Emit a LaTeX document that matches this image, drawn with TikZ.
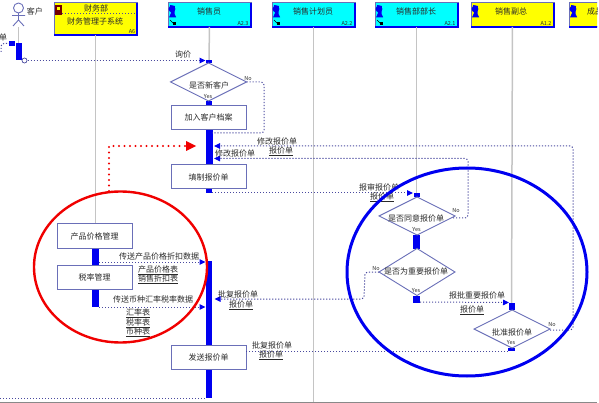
\documentclass[tikz,border=0pt]{standalone}
\usepackage{fontspec}
\setmainfont{Noto Sans CJK SC}
\usetikzlibrary{shapes.geometric,arrows.meta}
\definecolor{edgeblue}{HTML}{6A6FB8}
\definecolor{dotblue}{HTML}{4A4A9F}
\definecolor{barblue}{HTML}{0000F0}
\definecolor{lifegray}{HTML}{C4C4C4}
\definecolor{txt}{HTML}{2A2A2A}
\definecolor{hdrcyan}{HTML}{00FFFF}
\definecolor{hdryellow}{HTML}{FFFF00}
\definecolor{markred}{HTML}{F00000}
\tikzset{
  every node/.style={font=\fontsize{8}{9}\selectfont,text=txt,inner sep=0pt,outer sep=0pt},
  lab/.style={font=\fontsize{8}{9}\selectfont},
  small/.style={font=\fontsize{5.5}{6}\itshape\selectfont},
  bar/.style={fill=barblue,draw=none,minimum width=#1},
  bar/.default=6pt,
  taskbox/.style={draw=edgeblue,line width=1pt,fill=white,minimum width=75pt,minimum height=24pt},
  decide/.style={draw=edgeblue,line width=.9pt,fill=white,diamond,aspect=2,minimum width=76pt,minimum height=38pt},
  msg/.style={draw=dotblue,line width=1pt,dash pattern=on 1.2pt off 1.8pt,rounded corners=3pt},
  tip/.style={msg,-{Triangle[length=6pt,width=5.5pt,fill=barblue,color=barblue,sep=0pt]}},
  life/.style={draw=lifegray,line width=1.5pt},
  hdr/.style={draw=edgeblue,line width=1pt,minimum height=24pt},
}
\newcommand{\person}[2]{%
  \fill[barblue] (#1+4,#2+6) circle (3.4pt);
  \fill[barblue] (#1+2,#2+2) -- (#1+7,#2+3) -- (#1+6.5,#2+11) -- (#1+8,#2+14) -- (#1+8,#2+14.5) -- (#1+1,#2+14.5) -- (#1+3,#2+10) -- cycle;}
\newcommand{\corner}[2]{%
  \draw[black,line width=.4pt] (#1+2,#2+17) -- (#1+6,#2+21);
  \fill[black] (#1+5,#2+19.5) rectangle (#1+8,#2+22);}
\begin{document}
\begin{tikzpicture}[x=1pt,y=-1pt]
\useasboundingbox (0,0) rectangle (599,403);
\begin{scope}
\clip (0,0) rectangle (597,403);
% lifelines
\coordinate (lifeA) at (95.5,290);
\coordinate (lifeB) at (209,70);
\coordinate (lifeC) at (313.5,402);
\coordinate (lifeD) at (416.5,200);
\coordinate (lifeE) at (511.5,310);
\coordinate (lifeP) at (18.5,45);
% headers
\node[hdr,fill=hdryellow,minimum width=83pt,minimum height=32pt] (hA) at (95.5,19) {};
\node[hdr,fill=hdrcyan,minimum width=83pt] (hB) at (209.5,15) {};
\node[hdr,fill=hdrcyan,minimum width=83pt] (hC) at (313.5,15) {};
\node[hdr,fill=hdrcyan,minimum width=83pt] (hD) at (416.5,15) {};
\node[hdr,fill=hdryellow,minimum width=83pt] (hE) at (512.5,15) {};
\node[hdr,fill=hdryellow,minimum width=83pt] (hF) at (610.5,15) {};
\foreach \n in {hA,hB,hC,hD,hE,hF}{
  \draw[barblue,line width=1.3pt] (\n.south west) -- (\n.south east) -- (\n.north east);}
\draw[life] (hA) -- (lifeA);
\draw[life] (hB) -- (lifeB);
\draw[life] (hC) -- (lifeC);
\draw[life] (hD) -- (lifeD);
\draw[life] (hE) -- (lifeE);
\node at (209,11) {销售员};
\node at (313,11) {销售计划员};
\node at (416,11) {销售部部长};
\node at (511,11) {销售副总};
\node[anchor=west] at (587,11) {成品};
\node (tA1) at (96,8.5) {财务部};
\node (tA2) at (95,21) {财务管理子系统};
\draw[dotblue,line width=1pt,dash pattern=on 1.2pt off 1.8pt] (62,14) -- (136,14);
\foreach \t/\x/\y in {A6/132/32,A2.3/243/24,A2.2/347/24,A2.1/450/24,A1.2/546/24}{
  \node[small] at (\x,\y) {\t};}
\fill[red!45!black] (55,5) rectangle (62,15);
\fill[hdryellow] (57,7) rectangle (60,10);
\person{168}{3}\person{272}{3}\person{375}{3}\person{471}{3}\person{569}{3}
\corner{168}{3}\corner{272}{3}\corner{375}{3}
% actor
\draw[edgeblue,line width=.9pt] (18.5,8) circle (5pt);
\draw[edgeblue,line width=.9pt] (18.5,13) -- (18.5,20) (12,15.5) -- (25,15.5) (13,26) -- (18.5,20) -- (24,26);
\node (actor) at (35,11) {客户};
\node at (3,37) {单};
\draw[life] (18.5,27) -- (lifeP);
% bars
\node[bar,anchor=north,minimum height=17pt] (bP) at (18.5,43) {};
\fill[barblue] (9,41) rectangle (15,46);
\coordinate (p0) at (1,52);
\coordinate (p1) at (9,43.5);
\draw[msg] (p0) -- (1,43.5) -- (p1);
\node[bar,anchor=north,minimum height=3pt] (b1) at (209,60) {};
\node[bar,anchor=north,minimum height=5pt] (b2) at (209,101) {};
\node[bar,anchor=north,minimum height=36pt,minimum width=7pt] (b3) at (209,129) {};
\node[bar,anchor=north,minimum height=4pt] (b4) at (209,189) {};
\node[bar,anchor=north,minimum height=137pt] (b5) at (209,261) {};
\node[bar,anchor=north,minimum height=4pt] (b6) at (416.5,193) {};
\node[bar,anchor=north,minimum height=14pt,minimum width=7pt] (b7) at (416.5,235) {};
\node[bar,anchor=north,minimum height=7pt,minimum width=7pt] (b8) at (416.5,296) {};
\node[bar,anchor=north,minimum height=7pt] (b9) at (512,303) {};
\node[bar,anchor=north,minimum height=3pt,minimum width=7pt] (b10) at (511.5,348) {};
\node[bar,anchor=north,minimum height=18pt,minimum width=7pt] (b11) at (95.5,248) {};
\node[bar,anchor=north,minimum height=18pt,minimum width=7pt] (b12) at (95.5,289) {};
% tasks
\node[taskbox] (tAdd) at (208.5,117.5) {加入客户档案};
\node[taskbox] (tFill) at (208.5,177) {填制报价单};
\node[taskbox] (tSend) at (208.5,357) {发送报价单};
\node[taskbox] (tPrice) at (94.5,236) {产品价格管理};
\node[taskbox] (tTax) at (94.5,277) {税率管理};
% decisions
\node[decide] (dNew) at (208.5,82) {};
\node at (209,85) {是否新客户};
\node[decide] (dAgree) at (417,216) {};
\node at (416,218) {是否同意报价单};
\node[decide,minimum height=47pt,minimum width=76pt,aspect=1.6] (dImp) at (417,272) {};
\node at (416,271) {是否为重要报价单};
\node[decide] (dOk) at (512,329) {};
\node at (512,332) {批准报价单};
\node[small] at (248,78.5) {No};
\node[small] at (208,97) {Yes};
\node[small] at (456,211) {No};
\node[small] at (416.5,229.5) {Yes};
\node[small] at (376,268.5) {No};
\node[small] at (416,291) {Yes};
\node[small] at (552,325) {No};
\node[small] at (511,343) {Yes};
% connectors
\coordinate (c0) at (24.5,60.5);
\coordinate (c1) at (205.5,60.5);
\draw[tip] (c0) -- (c1);
\node[circle,draw=dotblue,fill=white,line width=.7pt,minimum size=5pt] (cir) at (24.5,60.5) {};
\coordinate (n1) at (212,133);
\draw[msg] (dNew.east) -- (264,82) -- (264,133) -- (n1);
\draw[tip] (dOk.east) ++(0,1) -- (573,330) -- (573,146) -- (214,146);
\draw[tip] (dAgree.east) ++(-2,2) -- (468,218) -- (468,158.5) -- (214,158.5);
\draw[tip] (212,193) -- (413,193);
\draw[tip] (b8.south east) ++(0,-1) -- (509,302.5);
\draw[msg] (b10.south) ++(-3.5,0) -- (tSend.east |- 0,351);
\draw[tip] (dImp.west) -- (365,272) -- (364,299) -- (214.5,299);
\draw[msg] (0,398) -- (b5.south west);
\draw[tip] (b11.south east) ++(0,-4) -- (205.5,262);
\draw[tip] (b12.south east) -- (205.5,307);
% red arrow
\coordinate (r0) at (109,191);
\coordinate (r1) at (186,146);
\draw[markred,line width=2.4pt,line cap=round,dash pattern=on 0pt off 5.5pt] (r0) -- (109,146) -- (r1);
\fill[markred] (186,141) -- (196,146) -- (186,151) -- cycle;
% labels
\node[lab] at (183,54) {询价};
\node[lab] at (277,141) {修改报价单};
\node[lab] (u1) at (281,151) {\underline{报价单}};
\node[lab] at (235,153.5) {修改报价单};
\node[lab] at (379,187) {报审报价单};
\node[lab] at (382,197) {\underline{报价单}};
\node[lab] at (477,295) {报批重要报价单};
\node[lab] at (472,310) {\underline{报价单}};
\node[lab] at (238,294) {批复报价单};
\node[lab] at (241,305) {\underline{报价单}};
\node[lab] at (272,345) {批复报价单};
\node[lab] at (271,355) {\underline{报价单}};
\node[lab] at (159,256) {传送产品价格折扣数据};
\node[lab] at (158,270) {\underline{产品价格表}};
\node[lab] at (158,279) {\underline{销售折扣表}};
\node[lab] at (153,299) {传送币种汇率税率数据};
\node[lab] at (138,313.5) {\underline{汇率表}};
\node[lab] at (138,323) {\underline{税率表}};
\node[lab] at (138,332) {\underline{币种表}};
% ellipses
\draw[markred,line width=2.4pt] (120.5,267) ellipse (86.5pt and 75.5pt);
\draw[barblue,line width=3pt] (467,272) ellipse (120pt and 104pt);
\draw[lifegray!70!black,line width=.8pt] (0,402.3) -- (597,402.3);
\end{scope}
\end{tikzpicture}
\end{document}
